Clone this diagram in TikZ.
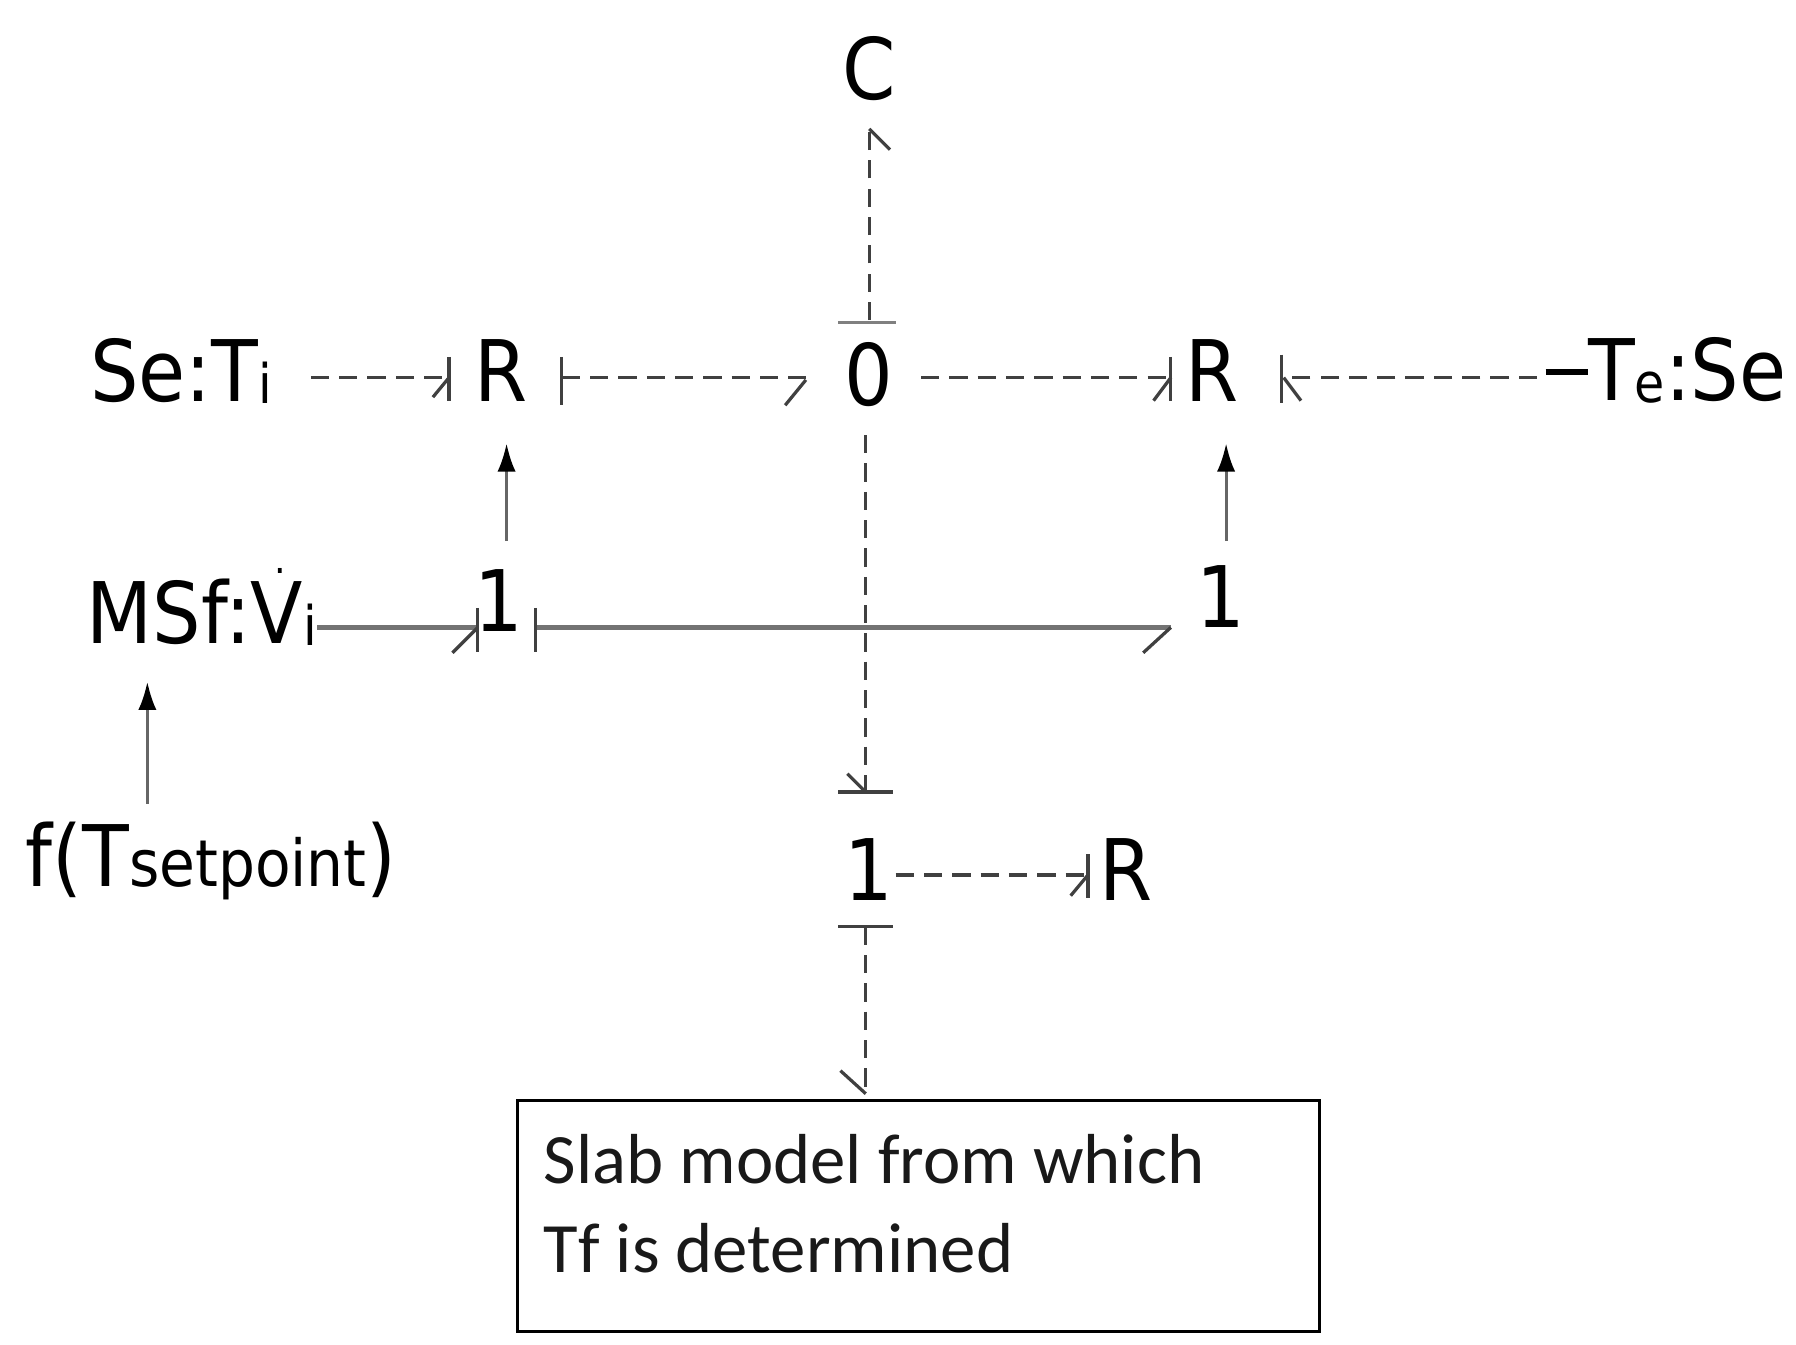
\documentclass[tikz,border=0pt]{standalone}
\usepackage{fontspec}
\setmainfont{DejaVu Sans Condensed}
\newfontfamily\boxfont{Carlito}
\usetikzlibrary{arrows.meta}
\newcommand{\lowsub}[1]{\raisebox{-1pt}{\fontsize{27}{29}\selectfont #1}}
\begin{document}
\begin{tikzpicture}[x=0.02cm,y=-0.02cm,
  lbl/.style={inner sep=0pt,font=\fontsize{42}{46}\selectfont},
  bond/.style={line width=1.6pt,dash pattern=on 9pt off 5pt,draw=black!75},
  sbond/.style={line width=2.2pt,draw=black!55},
  stroke/.style={line width=1.6pt,draw=black!75},
  sig/.style={line width=1.6pt,draw=black!60,-{Latex[length=14pt,width=9pt,black]}}]
\useasboundingbox (0,0) rectangle (1560,1168);
% nodes
\node[lbl] (C) at (755,60) {C};
\node[lbl,anchor=west] (seti) at (78,322) {Se:T\lowsub{i}};
\node[lbl] (r1) at (435,322) {R};
\node[lbl] (zero) at (755,325) {0};
\node[lbl] (r2) at (1053,322) {R};
\node[lbl,anchor=east] (tese) at (1552,322) {\rule[0.3em]{0.5em}{3pt}T\lowsub{e}:Se};
\node[lbl,anchor=west] (msf) at (75,527) {MSf:\rlap{\kern0.28em\raisebox{0.82em}{\fontsize{20}{20}\selectfont.}}V\lowsub{i}};
\node[lbl] (one1) at (433,522) {1};
\node[lbl] (one2) at (1060,518) {1};
\node[lbl,anchor=west] (fset) at (22,748) {f(T{\fontsize{32}{34}\selectfont setpoint})};
\node[lbl] (one3) at (755,755) {1};
\node[lbl] (r3) at (978,755) {R};
\node[draw,line width=1.4pt,minimum width=697*0.02cm,minimum height=200*0.02cm,anchor=north west,inner sep=0pt] (slab) at (448,955) {};
\node[anchor=north west,align=left,inner sep=0pt,font=\boxfont\fontsize{35}{44}\selectfont,text=black!90] at (472,985) {Slab model from which\\Tf is determined};
% 0 -> C
\draw[bond] (755,278) -- (755,112);
\draw[stroke] (755,112) -- (773,130);
\draw[stroke,draw=black!50] (728,280) -- (778,280);
% Se:Ti -> R1
\draw[bond] (270,328) -- (390,328);
\draw[stroke] (390,310) -- (390,348); \draw[stroke] (390,328) -- (376,345);
% R1 -> 0
\draw[bond] (488,328) -- (700,328);
\draw[stroke] (488,310) -- (488,352); \draw[stroke] (700,330) -- (682,352);
% 0 -> R2
\draw[bond] (800,328) -- (1017,328);
\draw[stroke] (1017,310) -- (1017,348); \draw[stroke] (1017,328) -- (1002,348);
% Te:Se -> R2
\draw[bond] (1335,328) -- (1115,328);
\draw[stroke] (1113,308) -- (1113,350); \draw[stroke] (1115,328) -- (1130,348);
% signals
\draw[sig] (440,470) -- (440,385);
\draw[sig] (1065,470) -- (1065,385);
\draw[sig] (128,698) -- (128,592);
% MSf -> 1a
\draw[sbond] (msf.east |- 0,545) -- (415,545);
\draw[stroke] (415,528) -- (415,566); \draw[stroke] (415,545) -- (393,567);
% 1a -> 1b
\draw[sbond] (465,545) -- (1017,545);
\draw[stroke] (465,528) -- (465,566); \draw[stroke] (1017,545) -- (993,567);
% 0 -> 1c
\draw[bond] (752,378) -- (752,688);
\draw[stroke] (728,688) -- (776,688); \draw[stroke] (752,688) -- (736,672);
% 1c -> R3
\draw[bond] (778,760) -- (945,760);
\draw[stroke] (945,742) -- (945,780); \draw[stroke] (945,760) -- (930,778);
% 1c -> slab
\draw[stroke] (728,805) -- (776,805);
\draw[bond] (752,805) -- (752,950);
\draw[stroke] (752,950) -- (730,930);
\end{tikzpicture}
\end{document}
